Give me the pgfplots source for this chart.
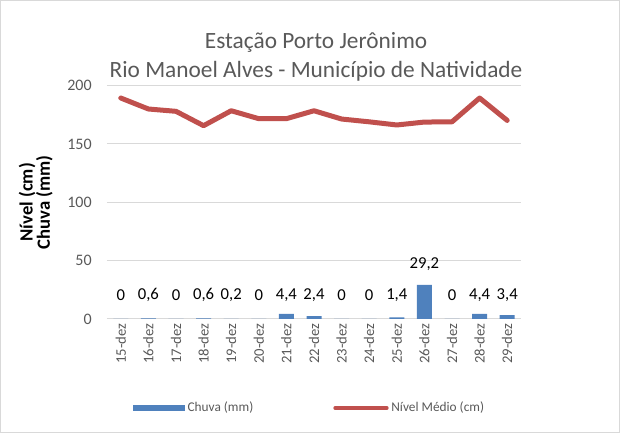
\documentclass[border=0pt]{standalone}
\usepackage{fontspec}
\setmainfont{Carlito}
\usepackage{pgfplots}
\pgfplotsset{compat=1.18}
\definecolor{cblue}{HTML}{4F81BD}
\definecolor{cred}{HTML}{C0504D}
\definecolor{txt}{HTML}{595959}
\definecolor{grd}{HTML}{D9D9D9}

\begin{document}
\begin{tikzpicture}
\begin{axis}[
  at={(0,0)},anchor=south west,
  scale only axis,width=310.5pt,height=175pt,
  xmin=-0.5,xmax=14.5,ymin=0,ymax=200,
  xtick={0,...,14},
  xticklabels={15-dez,16-dez,17-dez,18-dez,19-dez,20-dez,21-dez,22-dez,23-dez,24-dez,25-dez,26-dez,27-dez,28-dez,29-dez},
  ytick={0,50,...,200},
  /pgf/number format/assume math mode=true,
  axis x line*=bottom,axis y line*=left,
  x axis line style={draw=grd,line width=0.75pt,-},
  y axis line style={draw=none},
  ymajorgrids,grid style={draw=grd,line width=0.75pt},
  major tick length=0pt,
  xticklabel style={rotate=90,anchor=east,font=\fontsize{11}{13}\selectfont,text=txt},
  yticklabel style={font=\fontsize{12}{14}\selectfont,text=txt,xshift=-8pt},
  title={Estação Porto Jerônimo\\Rio Manoel Alves - Município de Natividade},
  title style={align=center,font=\fontsize{17.5}{21.75}\selectfont,text=txt,inner sep=0pt,at={(axis description cs:0.505,1)},anchor=south,yshift=-3pt},
  ylabel={Nível (cm)\\Chuva (mm)},
  ylabel style={align=center,font=\bfseries\fontsize{14}{13}\selectfont,at={(axis description cs:-0.172,0.5)},anchor=center,rotate=0},
  legend columns=2,
  legend style={draw=none,fill=none,font=\fontsize{10}{12}\selectfont,text=txt,
    at={(axis description cs:0.49,0)},anchor=center,yshift=-66.75pt,
    /tikz/every even column/.append style={column sep=58pt}},
  clip=false,
]
\addplot[ybar,bar width=11.25pt,fill=cblue,draw=none,
  legend image code/.code={\fill[cblue] (0pt,-2.6pt) rectangle (39pt,2.6pt);}]
  coordinates {(0,0) (1,0.6) (2,0) (3,0.6) (4,0.2) (5,0) (6,4.4) (7,2.4) (8,0) (9,0) (10,1.4) (11,29.2) (12,0) (13,4.4) (14,3.4)};
\addlegendentry{Chuva (mm)}
\addplot[cred,line width=3.75pt,line cap=round,line join=round,mark=none,
  legend image code/.code={\draw[cred,line width=2.5pt] (0pt,0pt) -- (39pt,0pt);}]
  coordinates {(0,189.4) (1,180) (2,178) (3,165.7) (4,178.5) (5,171.7) (6,171.7) (7,178.5) (8,171.4) (9,169) (10,166.3) (11,168.8) (12,169) (13,189.4) (14,170.2)};
\addlegendentry{Nível Médio (cm)}
\addplot[draw=none,mark=none,forget plot,nodes near coords,point meta=explicit symbolic,
  nodes near coords style={anchor=center,font=\fontsize{12.5}{14}\selectfont,text=black}]
  coordinates {(0,20.6)[0] (1,20.6)[0,6] (2,20.6)[0] (3,20.6)[0,6] (4,20.6)[0,2] (5,20.6)[0] (6,20.6)[4,4] (7,20.6)[2,4] (8,20.6)[0] (9,20.6)[0] (10,20.6)[1,4] (11,47.2)[29,2] (12,20.6)[0] (13,20.6)[4,4] (14,20.6)[3,4]};
\end{axis}
\pgfresetboundingbox
\path[use as bounding box] (-80.25pt,-86.25pt) rectangle (384.75pt,239.25pt);
\draw[grd,line width=0.75pt] (-79.5pt,-85.5pt) rectangle (384pt,238.5pt);
\end{tikzpicture}
\end{document}
